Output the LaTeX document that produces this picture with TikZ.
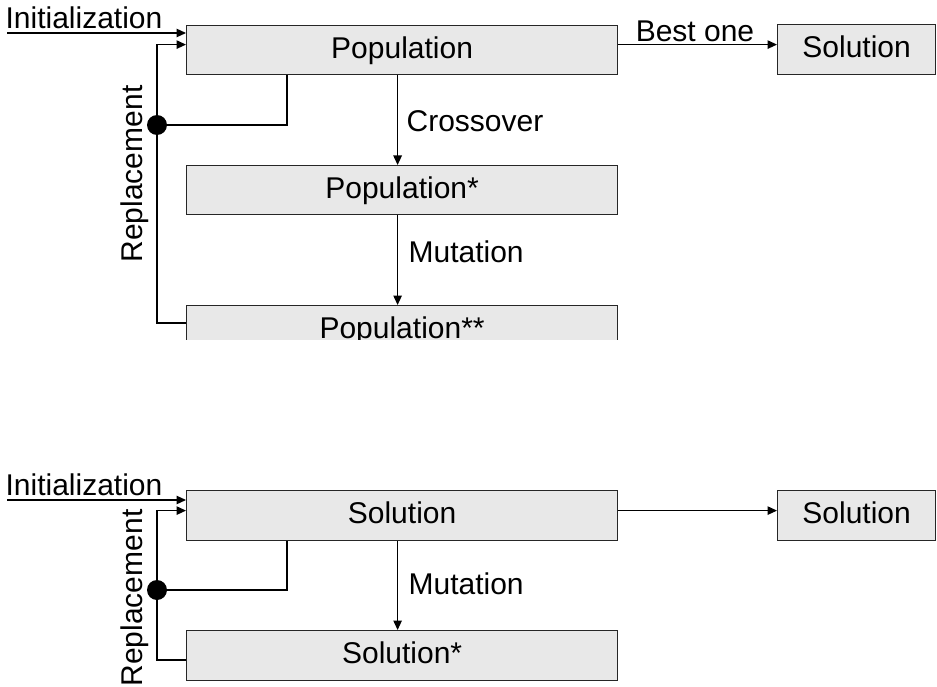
\documentclass[tikz,border=0pt]{standalone}
\usepackage{fontspec}
\setmainfont{Liberation Sans}
\usetikzlibrary{arrows.meta}
\begin{document}
\begin{tikzpicture}[x=1pt,y=-1pt,
  font=\fontsize{30}{36}\selectfont,
  line width=1.2pt,
  box/.style={draw=black!85, fill=black!9, inner sep=0pt, anchor=north west,
    text height=22pt, text depth=6pt},
  wide/.style={box, minimum width=431pt, minimum height=49pt},
  narrow/.style={box, minimum width=158pt, minimum height=50pt},
  arr/.style={-{Triangle[length=9.5pt,width=8.5pt]}},
  lbl/.style={inner sep=0pt},
  junction/.style={circle, fill=black, inner sep=0pt, minimum size=20pt}]
\useasboundingbox[fill=white] (0,0) rectangle (937,687);

% ---------- genetic algorithm ----------
\node[wide] (pop) at (186,25) {Population};
\node[wide] (popa) at (186,165) {Population*};
\begin{scope}
  \clip (0,0) rectangle (937,339.5);
  \node[wide] (popb) at (186,305) {Population**};
\end{scope}
\node[narrow] (sol) at (777,24) {Solution};

\coordinate (init) at (7,33);
\node[lbl, anchor=base west] (initlbl) at (5,28.5) {Initialization};
\draw[arr] (init) -- (init -| pop.west);

\draw[arr] ([yshift=5.5pt]pop.east) coordinate (best) -- (best -| sol.west);
\node[lbl, anchor=base] (bestlbl) at (695,41.5) {Best one};

\draw[arr] ([xshift=-4.5pt]pop.south) -- ([xshift=-4.5pt]popa.north);
\node[lbl, anchor=base west] (cross) at (406,132) {Crossover};
\draw[arr] ([xshift=-4.5pt]popa.south) -- ([xshift=-4.5pt]popb.north);
\node[lbl, anchor=base west] (mut) at (408,262) {Mutation};

\node[junction] (j1) at (157,125) {};
\draw ([xshift=101pt]pop.south west) |- (j1.center);
\coordinate (r1) at (157,323);
\draw[arr] (r1 -| popb.west) -- (r1) -- (j1.center) |- ([yshift=5.5pt]pop.west);
\node[lbl, rotate=90, anchor=base] (rep1) at (142,174) {Replacement};

% ---------- single-solution search ----------
\node[wide, minimum height=50pt] (s) at (186,490) {Solution};
\node[wide, minimum height=50pt] (sa) at (186,630) {Solution*};
\node[narrow] (sol2) at (777,490) {Solution};

\coordinate (init2) at (7,500);
\node[lbl, anchor=base west] (initlbl2) at (5,495) {Initialization};
\draw[arr] (init2) -- (init2 -| s.west);

\draw[arr] ([yshift=5pt]s.east) coordinate (out2) -- (out2 -| sol2.west);

\draw[arr] ([xshift=-4.5pt]s.south) -- ([xshift=-4.5pt]sa.north);
\node[lbl, anchor=base west] (mut2) at (408,594) {Mutation};

\node[junction] (j2) at (157,590) {};
\draw ([xshift=101pt]s.south west) |- (j2.center);
\coordinate (r2) at (157,660);
\draw[arr] (r2 -| sa.west) -- (r2) -- (j2.center) |- ([yshift=5pt]s.west);
\node[lbl, rotate=90, anchor=base] (rep2) at (142,598) {Replacement};
\end{tikzpicture}
\end{document}
